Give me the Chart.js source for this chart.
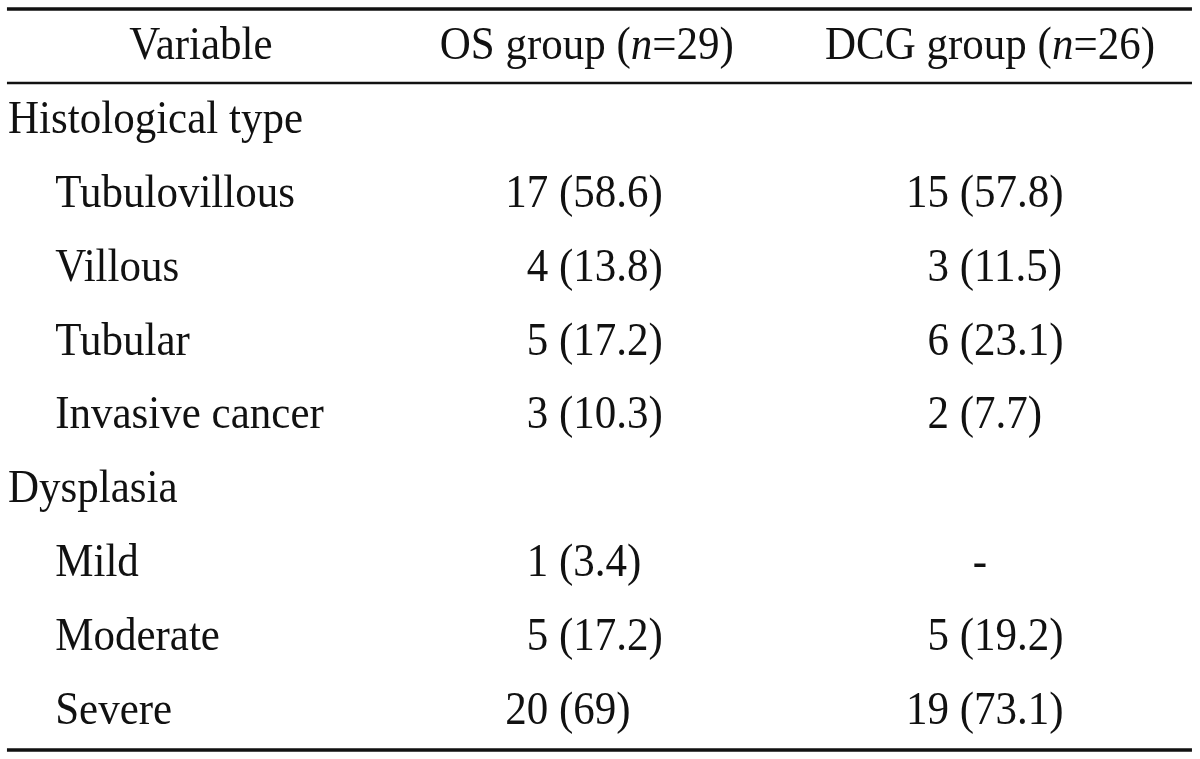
<!DOCTYPE html>
<html>
<head>
<meta charset="utf-8">
<script src="https://cdn.jsdelivr.net/npm/chart.js@4/dist/chart.umd.min.js"></script>
<style>
  html, body { margin: 0; padding: 0; background: #fff; }
  #wrap { width: 1200px; height: 759px; }
</style>
</head>
<body>
<div id="wrap"><canvas id="table" width="1200" height="759"></canvas></div>
<script>
// TABLE DATA
const columnHeaders = ["Variable", "OS group", "DCG group"];
const groupSizes = [29, 26];
const rowLabels = ["Histological type", "Tubulovillous", "Villous", "Tubular", "Invasive cancer",
                   "Dysplasia", "Mild", "Moderate", "Severe"];
const isGroupRow = [true, false, false, false, false, true, false, false, false];
const osCounts = [null, 17, 4, 5, 3, null, 1, 5, 20];
const osPercents = [null, "58.6", "13.8", "17.2", "10.3", null, "3.4", "17.2", "69"];
const dcgCounts = [null, 15, 3, 6, 2, null, null, 5, 19];
const dcgPercents = [null, "57.8", "11.5", "23.1", "7.7", null, null, "19.2", "73.1"];

// layout (x in percent of table width, y in row units)
const col = { label: 0.67, indent: 4.6, varHead: 16.75, osHead: 48.9, osVal: 42.1, dcgHead: 82.5, dcgVal: 75.5 };
const rules = [{ y: -0.677, w: 3.5 }, { y: 0.325, w: 2.5 }, { y: 9.35, w: 3.5 }];
const FONT = "43px 'Liberation Serif', 'Times New Roman', serif";
const ITALIC = "italic 43px 'Liberation Serif', 'Times New Roman', serif";
const STRETCH = 1.1;
const INK = "#111";

// one point per cell, row index 1..9 (header is row 0)
const rowIdx = rowLabels.map((_, i) => i + 1);
const cellText = (counts, pcts, i) => {
  if (isGroupRow[i]) return null;
  if (counts[i] === null) return "-";
  return counts[i] + " (" + pcts[i] + ")";
};

const labelPts = rowLabels.map((t, i) => ({ x: isGroupRow[i] ? col.label : col.indent, y: rowIdx[i], text: t }));
const osPts = rowLabels.map((_, i) => ({ x: col.osVal, y: rowIdx[i], text: cellText(osCounts, osPercents, i), n: osCounts[i] }));
const dcgPts = rowLabels.map((_, i) => ({ x: col.dcgVal, y: rowIdx[i], text: cellText(dcgCounts, dcgPercents, i), n: dcgCounts[i] }));
const headPts = [
  { x: col.varHead, y: 0, parts: [[columnHeaders[0], FONT]] },
  { x: col.osHead, y: 0, parts: [[columnHeaders[1] + " (", FONT], ["n", ITALIC], ["=" + groupSizes[0] + ")", FONT]] },
  { x: col.dcgHead, y: 0, parts: [[columnHeaders[2] + " (", FONT], ["n", ITALIC], ["=" + groupSizes[1] + ")", FONT]] }
];

function putText(ctx, str, x, y) {
  ctx.save();
  ctx.translate(x, y);
  ctx.scale(1, STRETCH);
  ctx.fillText(str, 0, 0);
  ctx.restore();
}

const tablePlugin = {
  id: "tableText",
  afterDatasetsDraw(chart) {
    const ctx = chart.ctx;
    const xs = chart.scales.x, ys = chart.scales.y;
    ctx.save();
    ctx.fillStyle = INK;
    ctx.strokeStyle = INK;
    ctx.textBaseline = "alphabetic";
    ctx.textAlign = "left";

    // horizontal rules
    rules.forEach(r => {
      const py = ys.getPixelForValue(r.y);
      ctx.lineWidth = r.w;
      ctx.beginPath();
      ctx.moveTo(xs.getPixelForValue(0.58), py);
      ctx.lineTo(xs.getPixelForValue(99.33), py);
      ctx.stroke();
    });

    // header, centered with italic n
    chart.getDatasetMeta(0).data.forEach((el, i) => {
      const parts = headPts[i].parts;
      let total = 0;
      parts.forEach(p => { ctx.font = p[1]; total += ctx.measureText(p[0]).width; });
      let x = el.x - total / 2;
      parts.forEach(p => { ctx.font = p[1]; putText(ctx, p[0], x, el.y); x += ctx.measureText(p[0]).width; });
    });

    ctx.font = FONT;
    // row labels
    chart.getDatasetMeta(1).data.forEach((el, i) => putText(ctx, labelPts[i].text, el.x, el.y));

    // value columns, aligned on a two-digit count
    [[2, osPts], [3, dcgPts]].forEach(([di, pts]) => {
      const digit = ctx.measureText("0").width;
      const full = ctx.measureText("00 (00.0)").width;
      chart.getDatasetMeta(di).data.forEach((el, i) => {
        const p = pts[i];
        if (!p.text) return;
        if (p.text === "-") {
          const w = ctx.measureText("-").width;
          putText(ctx, "-", el.x + full / 2 - w / 2 - 5, el.y);
          return;
        }
        const off = p.n < 10 ? digit : 0;
        putText(ctx, p.text, el.x + off, el.y);
      });
    });
    ctx.restore();
  }
};

const hidden = { radius: 0, hoverRadius: 0 };
const cfg = {
  type: "scatter",
  data: {
    datasets: [
      { label: "header", data: headPts, ...hidden },
      { label: "labels", data: labelPts, ...hidden },
      { label: "OS", data: osPts, ...hidden },
      { label: "DCG", data: dcgPts, ...hidden }
    ]
  },
  options: {
    responsive: false,
    animation: false,
    layout: { padding: 0 },
    plugins: { legend: { display: false }, tooltip: { enabled: false }, title: { display: false } },
    scales: {
      x: { type: "linear", min: 0, max: 100, display: false },
      y: { type: "linear", min: -0.798, max: 9.472, reverse: true, display: false }
    }
  },
  plugins: [tablePlugin]
};

new Chart(document.getElementById("table"), cfg);
</script>
</body>
</html>
